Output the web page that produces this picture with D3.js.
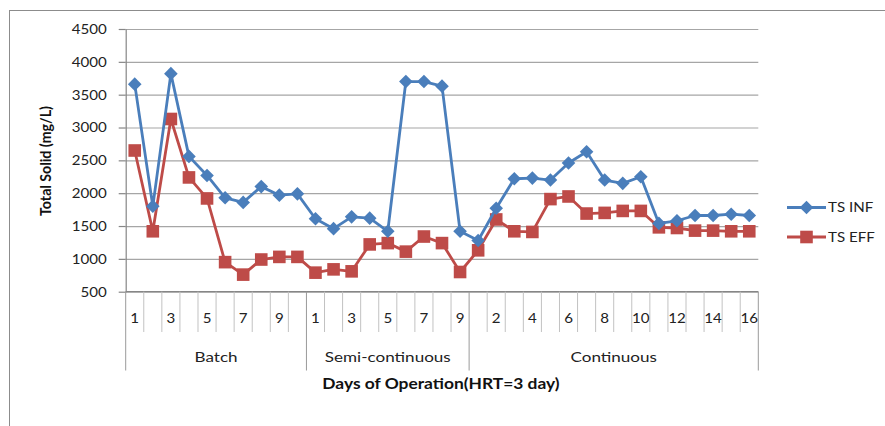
<!DOCTYPE html>
<html><head><meta charset="utf-8">
<script src="https://cdn.jsdelivr.net/npm/d3@7"></script>
<style>body{margin:0;background:#fff}svg{display:block;font-family:Lato,"Open Sans",sans-serif}</style>
</head><body><svg id="c" width="885" height="426"></svg>
<script>
// ---- data ----
const groups = ["Batch", "Semi-continuous", "Continuous"];
const batchDays = [1,2,3,4,5,6,7,8,9,10];
const semiDays = [1,2,3,4,5,6,7,8,9];
const contDays = [1,2,3,4,5,6,7,8,9,10,11,12,13,14,15,16];
const tsInfBatch = [3660,1800,3820,2560,2270,1930,1860,2100,1970,1990];
const tsInfSemi  = [1610,1460,1640,1620,1420,3700,3700,3630,1420];
const tsInfCont  = [1280,1770,2220,2230,2200,2460,2630,2200,2150,2250,1540,1580,1660,1660,1680,1660];
const tsEffBatch = [2650,1420,3130,2240,1920,950,760,990,1030,1030];
const tsEffSemi  = [790,840,810,1220,1240,1110,1340,1240,800];
const tsEffCont  = [1130,1600,1420,1410,1910,1950,1690,1700,1730,1730,1480,1470,1430,1430,1420,1420];
const yTicks = [500,1000,1500,2000,2500,3000,3500,4000,4500];
const seriesNames = ["TS INF","TS EFF"];
const yTitle = "Total Solid (mg/L)";
const xTitle = "Days of Operation(HRT=3 day)";

// ---- build ----
const dayLists = [batchDays, semiDays, contDays];
const cats = [];
dayLists.forEach((days, g) => days.forEach(d => cats.push({group: groups[g], day: d})));
const inf = [...tsInfBatch, ...tsInfSemi, ...tsInfCont];
const eff = [...tsEffBatch, ...tsEffSemi, ...tsEffCont];

const SX = 1.12;
const BLUE = "#4A7EBB", RED = "#BE4B48", GRID = "#A6A6A6", AXIS = "#868686", TXT = "#222";
const L = 125.7, R = 758.3, T = 29, B = 291.7;

const svg = d3.select("#c");
svg.append("rect").attr("x", 9.5).attr("y", 10.5).attr("width", 1000).attr("height", 1000)
  .attr("fill", "#fff").attr("stroke", "#8c8c8c").attr("stroke-width", 1);

const x = d3.scaleBand().domain(d3.range(cats.length)).range([L, R]).padding(0);
const y = d3.scaleLinear().domain([500, 4500]).range([B, T]);
const cx = i => x(i) + x.bandwidth() / 2;

// gridlines
svg.append("g").attr("transform", `translate(${L},0)`)
  .call(d3.axisLeft(y).tickValues(yTicks).tickSize(-(R - L)).tickFormat(""))
  .call(g => g.select(".domain").remove())
  .call(g => g.selectAll("line").attr("stroke", GRID).attr("stroke-width", 1.2));

// y axis
const ya = svg.append("g").attr("transform", `translate(${L},0)`)
  .call(d3.axisLeft(y).tickValues(yTicks).tickSizeInner(7).tickSizeOuter(0).tickFormat(d3.format("d")));
ya.select(".domain").attr("stroke", AXIS).attr("stroke-width", 1.2);
ya.selectAll(".tick line").attr("stroke", AXIS).attr("stroke-width", 1.2);
ya.selectAll(".tick text").attr("x", -19 / SX).attr("transform", `scale(${SX},1)`)
  .attr("font-size", 13.5).attr("fill", TXT).attr("font-family", "Lato");

// x axis base line
svg.append("line").attr("x1", L).attr("x2", R).attr("y1", B).attr("y2", B)
  .attr("stroke", AXIS).attr("stroke-width", 1.2);

// category separators
const groupStarts = new Set();
let acc = 0;
dayLists.forEach(d => { groupStarts.add(acc); acc += d.length; });
groupStarts.add(acc);
const bounds = d3.range(cats.length + 1);
svg.append("g").selectAll("line").data(bounds).join("line")
  .attr("x1", i => i < cats.length ? x(i) : R).attr("x2", i => i < cats.length ? x(i) : R)
  .attr("y1", B).attr("y2", i => groupStarts.has(i) ? 370.5 : 332)
  .attr("stroke", i => groupStarts.has(i) ? "#9a9a9a" : "#c2c2c2").attr("stroke-width", 1);

// category labels (every other)
svg.append("g").selectAll("text").data(cats.map((c, i) => ({c, i})).filter(d => d.i % 2 === 0)).join("text")
  .attr("transform", d => `translate(${cx(d.i)},318) scale(${SX},1)`)
  .attr("text-anchor", "middle").attr("dy", "0.35em").attr("font-size", 13.5).attr("fill", TXT)
  .text(d => d.c.day);

// group labels
let start = 0;
const gl = dayLists.map((d, g) => { const o = {name: groups[g], a: start, b: start + d.length}; start += d.length; return o; });
svg.append("g").selectAll("text").data(gl).join("text")
  .attr("transform", d => `translate(${(x(d.a) + (d.b < cats.length ? x(d.b) : R)) / 2},357) scale(1.22,1)`)
  .attr("text-anchor", "middle").attr("dy", "0.35em").attr("font-size", 14).attr("fill", TXT)
  .text(d => d.name);

// axis titles
svg.append("text").attr("transform", `translate(441,384) scale(1.2,1)`)
  .attr("text-anchor", "middle").attr("dy", "0.35em").attr("font-size", 14.5).attr("font-weight", "bold")
  .attr("fill", "#111").text(xTitle);
svg.append("text").attr("transform", `translate(45,161) scale(${SX},1) rotate(-90)`)
  .attr("text-anchor", "middle").attr("dy", "0.35em").attr("font-size", 14.2).attr("font-weight", "bold")
  .attr("fill", "#111").text(yTitle);

// lines
const line = d3.line().x((d, i) => cx(i)).y(d => y(d));
const diamond = "M0,-6.8L6.8,0L0,6.8L-6.8,0Z";
const square = "M-6.3,-6.3H6.3V6.3H-6.3Z";
[[eff, RED, square], [inf, BLUE, diamond]].forEach(([vals, col, shape]) => {
  svg.append("path").datum(vals).attr("d", line).attr("fill", "none")
    .attr("stroke", col).attr("stroke-width", 2.8).attr("stroke-linejoin", "round");
  svg.append("g").selectAll("path").data(vals).join("path")
    .attr("transform", (d, i) => `translate(${cx(i)},${y(d)})`)
    .attr("d", shape).attr("fill", col);
});

// legend
const lg = svg.append("g");
[[BLUE, diamond, 207.5], [RED, square, 237]].forEach(([col, shape, ly], k) => {
  lg.append("line").attr("x1", 787).attr("x2", 826).attr("y1", ly).attr("y2", ly)
    .attr("stroke", col).attr("stroke-width", 2.8);
  lg.append("path").attr("transform", `translate(806.5,${ly})`).attr("d", shape).attr("fill", col);
  lg.append("text").attr("transform", `translate(828,${ly}) scale(${SX},1)`)
    .attr("dy", "0.35em").attr("font-size", 13.5).attr("fill", TXT).text(seriesNames[k]);
});
</script></body></html>
